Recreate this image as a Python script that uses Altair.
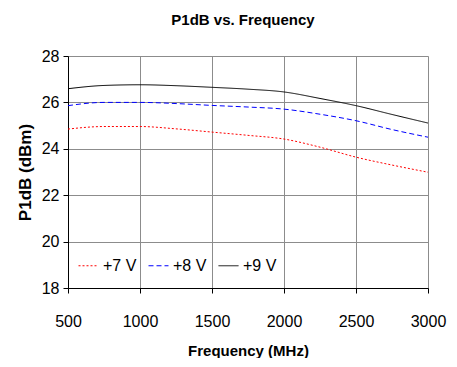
import altair as alt
import pandas as pd

freq = [500, 750, 1000, 1250, 1500, 1750, 2000, 2250, 2500, 2750, 3000]
p1db_7v = [24.85, 24.96, 24.96, 24.86, 24.72, 24.58, 24.42, 24.07, 23.64, 23.30, 22.99]
p1db_8v = [25.86, 26.00, 26.00, 25.95, 25.87, 25.80, 25.71, 25.49, 25.21, 24.83, 24.50]
p1db_9v = [26.59, 26.73, 26.76, 26.72, 26.65, 26.57, 26.45, 26.17, 25.86, 25.48, 25.11]
series = ["+7 V", "+8 V", "+9 V"]
x_ticks = [500, 1000, 1500, 2000, 2500, 3000]
y_ticks = [18, 20, 22, 24, 26, 28]

rows = []
for name, vals in zip(series, [p1db_7v, p1db_8v, p1db_9v]):
    for f, v in zip(freq, vals):
        rows.append({"freq": f, "p1db": v, "series": name})
df = pd.DataFrame(rows)

FONT = "Liberation Sans"

legend_opts = dict(orient="none", legendX=10, legendY=199,
                   direction="horizontal", symbolType="stroke",
                   symbolSize=400, symbolStrokeWidth=1,
                   labelFontSize=16, labelFont=FONT, labelColor="black",
                   labelOffset=4, columnPadding=9)

chart = alt.Chart(df).mark_line(strokeWidth=1, interpolate="monotone").encode(
    x=alt.X("freq:Q", title="Frequency (MHz)",
            scale=alt.Scale(domain=[500, 3000], nice=False, zero=False),
            axis=alt.Axis(values=x_ticks, format="d", labelFontSize=16, labelFont=FONT,
                          labelColor="black", tickColor="black", domainColor="black",
                          tickSize=5, labelPadding=20, titleFont=FONT, titleFontSize=15,
                          titleFontWeight="bold", titleColor="black", titlePadding=14,
                          gridColor="#8c8c8c", labelFlush=False)),
    y=alt.Y("p1db:Q", title="P1dB (dBm)",
            scale=alt.Scale(domain=[18, 28], nice=False, zero=False),
            axis=alt.Axis(values=y_ticks, labelFontSize=16, labelFont=FONT,
                          labelColor="black", tickColor="black", domainColor="black",
                          tickSize=5, labelPadding=4, titleFont=FONT, titleFontSize=17,
                          titleFontWeight="bold", titleColor="black", titlePadding=7,
                          gridColor="#8c8c8c")),
    color=alt.Color("series:N", title=None,
                    scale=alt.Scale(domain=series, range=["#ff0000", "#0000ff", "#000000"]),
                    legend=alt.Legend(**legend_opts)),
    strokeDash=alt.StrokeDash("series:N", title=None,
                              scale=alt.Scale(domain=series, range=[[2, 2], [5, 3], [1, 0]]),
                              legend=alt.Legend(**legend_opts)),
).properties(
    width=360, height=232,
    title=alt.TitleParams("P1dB vs. Frequency", font=FONT, fontSize=15, fontWeight="bold",
                          color="black", anchor="middle", dx=-5, offset=20),
    padding={"left": 60, "top": 48, "right": 20, "bottom": 70},
    autosize=alt.AutoSizeParams(type="none"),
).configure_view(stroke="black", strokeWidth=1).configure(background="white")

chart.save("out.html", embed_options={"renderer": "svg", "actions": False})
